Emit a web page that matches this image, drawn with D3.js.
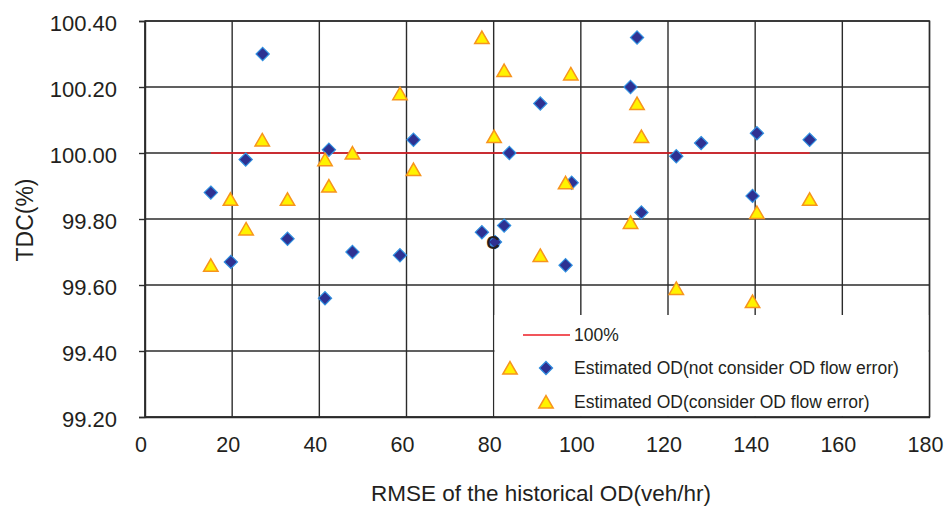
<!DOCTYPE html>
<html>
<head>
<meta charset="utf-8">
<script src="https://cdn.jsdelivr.net/npm/d3@7"></script>
<style>
  html, body { margin: 0; padding: 0; background: #fff; }
  svg { display: block; }
  text { font-family: "Liberation Sans", Arial, sans-serif; fill: #231f20; }
</style>
</head>
<body>
<svg id="chart" width="945" height="508"></svg>
<script>
// RMSE of the historical OD (veh/hr) and resulting TDC (%)
const notConsiderX = [15.1, 19.7, 23.1, 27.0, 32.7, 41.3, 42.2, 47.6, 58.5, 61.6, 77.3, 80.3, 82.4, 83.6, 90.7, 96.5, 97.9, 111.4, 112.9, 113.9, 121.9, 127.6, 139.4, 140.4, 152.5];
const notConsiderY = [99.88, 99.67, 99.98, 100.30, 99.74, 99.56, 100.01, 99.70, 99.69, 100.04, 99.76, 99.73, 99.78, 100.00, 100.15, 99.66, 99.91, 100.20, 100.35, 99.82, 99.99, 100.03, 99.87, 100.06, 100.04];

const considerX = [15.1, 19.6, 23.2, 26.9, 32.7, 41.3, 42.2, 47.6, 58.5, 61.6, 77.3, 80.1, 82.4, 90.7, 96.5, 97.7, 111.4, 112.9, 113.9, 121.9, 139.4, 140.4, 152.5];
const considerY = [99.66, 99.86, 99.77, 100.04, 99.86, 99.98, 99.90, 100.00, 100.18, 99.95, 100.35, 100.05, 100.25, 99.69, 99.91, 100.24, 99.79, 100.15, 100.05, 99.59, 99.55, 99.82, 99.86];

// 100% reference line spanning the observed RMSE range
const refX = [15.1, 152.5];
const refY = [100, 100];

const xTicks = [0, 20, 40, 60, 80, 100, 120, 140, 160, 180];
const yTicks = [99.2, 99.4, 99.6, 99.8, 100.0, 100.2, 100.4];

const legendLabels = ["100%", "Estimated OD(not consider OD flow error)", "Estimated OD(consider OD flow error)"];
const xTitle = "RMSE of the historical OD(veh/hr)";
const yTitle = "TDC(%)";

const svg = d3.select("#chart");
const plot = { left: 145, right: 929.5, top: 21, bottom: 417 };

const x = d3.scaleLinear().domain([0, 180]).range([plot.left, plot.right]);
const y = d3.scaleLinear().domain([99.2, 100.4]).range([plot.bottom, plot.top]);

const gridColor = "#2b2b2b";

// grid
const grid = svg.append("g");
grid.selectAll("line.v").data(xTicks).join("line")
  .attr("x1", d => x(d)).attr("x2", d => x(d))
  .attr("y1", plot.top).attr("y2", plot.bottom)
  .attr("stroke", gridColor).attr("stroke-width", 1.4);
grid.selectAll("line.h").data(yTicks).join("line")
  .attr("x1", plot.left).attr("x2", plot.right)
  .attr("y1", d => y(d)).attr("y2", d => y(d))
  .attr("stroke", gridColor).attr("stroke-width", 1.4);

// y axis with outward ticks
const yAxis = svg.append("g")
  .attr("transform", `translate(${plot.left},0)`)
  .call(d3.axisLeft(y).tickValues(yTicks).tickFormat(d3.format(".2f")).tickSize(6).tickPadding(22));
yAxis.select(".domain").attr("stroke", gridColor).attr("stroke-width", 1.4);
yAxis.selectAll(".tick line").attr("stroke", gridColor).attr("stroke-width", 1.4);
yAxis.selectAll(".tick text")
  .attr("font-size", 22).attr("font-family", "Liberation Sans, Arial, sans-serif")
  .attr("fill", "#231f20").attr("dy", "0.42em");

// x axis labels, set slightly left of their grid lines
const xAxis = svg.append("g")
  .attr("transform", `translate(0,${plot.bottom})`)
  .call(d3.axisBottom(x).tickValues(xTicks).tickFormat(d3.format("d")).tickSize(0).tickPadding(20));
xAxis.select(".domain").attr("stroke", gridColor).attr("stroke-width", 1.4);
xAxis.selectAll(".tick text")
  .attr("font-size", 21.5).attr("font-family", "Liberation Sans, Arial, sans-serif")
  .attr("fill", "#231f20").attr("dx", -4.5);

// legend background covers the lower-right grid cells
const legendLeft = x(80) + 0.8;
svg.append("rect")
  .attr("x", legendLeft).attr("y", 315)
  .attr("width", plot.right - legendLeft - 0.8).attr("height", plot.bottom - 315 - 0.8)
  .attr("fill", "#fff");

// plot border
svg.append("rect")
  .attr("x", plot.left).attr("y", plot.top)
  .attr("width", plot.right - plot.left).attr("height", plot.bottom - plot.top)
  .attr("fill", "none").attr("stroke", gridColor).attr("stroke-width", 1.4);

// 100% reference line
const refData = refX.map((v, i) => [v, refY[i]]);
svg.append("path")
  .datum(refData)
  .attr("d", d3.line().x(d => x(d[0])).y(d => y(d[1])))
  .attr("stroke", "#ed1c24").attr("stroke-width", 1.4).attr("fill", "none");

// marker symbols
const diamondPath = "M0,-6.6 L6.6,0 L0,6.6 L-6.6,0 Z";
const trianglePath = "M0,-6.4 L7.2,6.1 L-7.2,6.1 Z";

function drawDiamond(g, cx, cy) {
  g.append("path").attr("d", diamondPath)
    .attr("transform", `translate(${cx},${cy})`)
    .attr("fill", "#2e3192").attr("stroke", "#2f8fe0").attr("stroke-width", 1.2);
}
function drawTriangle(g, cx, cy) {
  g.append("path").attr("d", trianglePath)
    .attr("transform", `translate(${cx},${cy})`)
    .attr("fill", "#fff200").attr("stroke", "#f7941d").attr("stroke-width", 1.5)
    .attr("stroke-linejoin", "miter");
}

const marks = svg.append("g");
notConsiderX.forEach((v, i) => drawDiamond(marks, x(v), y(notConsiderY[i])));
considerX.forEach((v, i) => drawTriangle(marks, x(v), y(considerY[i])));

// stray point label
svg.append("text")
  .attr("x", 493).attr("y", 249)
  .attr("text-anchor", "middle")
  .attr("font-size", 19).attr("font-weight", "bold")
  .attr("fill", "#231f20")
  .text("C");

// legend
const lg = svg.append("g");
lg.append("line").attr("x1", 523).attr("x2", 570).attr("y1", 335).attr("y2", 335)
  .attr("stroke", "#ed1c24").attr("stroke-width", 1.3);
lg.append("text").attr("x", 574).attr("y", 341).attr("font-size", 17.5).text(legendLabels[0]);
drawTriangle(lg, 510, 368);
drawDiamond(lg, 546, 368);
lg.append("text").attr("x", 574).attr("y", 374).attr("font-size", 17.5).text(legendLabels[1]);
drawTriangle(lg, 546, 402);
lg.append("text").attr("x", 574).attr("y", 408).attr("font-size", 17.5).text(legendLabels[2]);

// axis titles
svg.append("text")
  .attr("x", 541).attr("y", 501)
  .attr("text-anchor", "middle").attr("font-size", 22.5)
  .text(xTitle);
svg.append("text")
  .attr("transform", "translate(33,220) rotate(-90)")
  .attr("text-anchor", "middle").attr("font-size", 23)
  .text(yTitle);
</script>
</body>
</html>
